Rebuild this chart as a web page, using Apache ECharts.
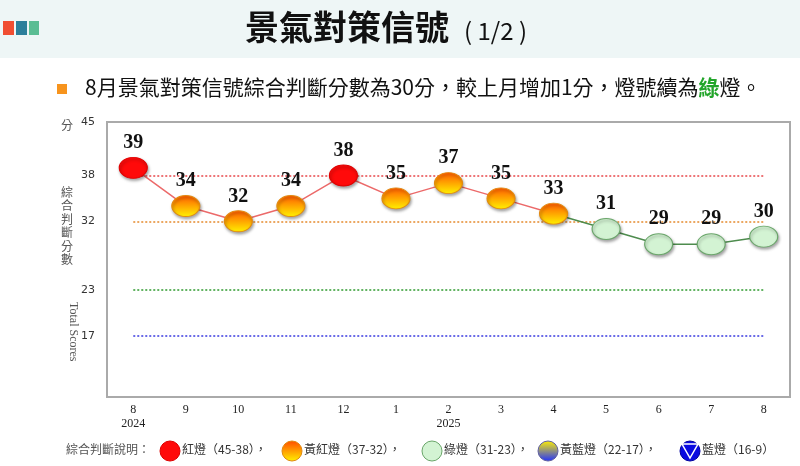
<!DOCTYPE html>
<html>
<head>
<meta charset="utf-8">
<script src="https://cdn.jsdelivr.net/npm/echarts@6/dist/echarts.min.js"></script>
<style>
html,body{margin:0;padding:0;background:#fff;}
#chart{width:800px;height:466px;}
</style>
</head>
<body>
<div id="chart"></div>
<script>
// 月份 / 年份
var months = ['8', '9', '10', '11', '12', '1', '2', '3', '4', '5', '6', '7', '8'];
var years = ['2024', '', '', '', '', '', '2025', '', '', '', '', '', ''];
// 綜合判斷分數
var scores = [39, 34, 32, 34, 38, 35, 37, 35, 33, 31, 29, 29, 30];
// 左軸只標這幾個分數
var yTicks = [45, 38, 32, 23, 17];
// 燈號分界線
var bandValues = [38, 32, 23, 17];
var bandColors = ['#e8474a', '#e58a2e', '#2f9a2f', '#3a3ae0'];

var serif = '"Liberation Serif", "DejaVu Serif", serif';
var cjk = '"Noto Sans CJK TC", "Noto Sans", sans-serif';

var redFill = '#ff0a0a';
var orangeFill = {
    type: 'linear', x: 0, y: 0, x2: 0, y2: 1,
    colorStops: [{offset: 0, color: '#ff5a00'}, {offset: 1, color: '#fff200'}]
};
var greenFill = '#d3f3d3';

function pointStyle(v) {
    if (v >= 38) return {color: redFill, borderColor: '#e00000', borderWidth: 1};
    if (v >= 32) return {color: orangeFill, borderColor: '#e28a10', borderWidth: 1};
    return {color: greenFill, borderColor: '#6aa66a', borderWidth: 1};
}

var points = [];
var redLine = [];
var greenLine = [];
for (var i = 0; i < scores.length; i++) {
    var st = pointStyle(scores[i]);
    st.shadowBlur = 3;
    st.shadowOffsetX = 1;
    st.shadowOffsetY = 2;
    st.shadowColor = 'rgba(0,0,0,0.35)';
    points.push({value: scores[i], itemStyle: st});
    redLine.push(i <= 8 ? scores[i] : '-');
    greenLine.push(i >= 8 ? scores[i] : '-');
}

var bandLines = [];
for (var j = 0; j < bandValues.length; j++) {
    bandLines.push([
        {coord: [0, bandValues[j]], lineStyle: {color: bandColors[j], type: [2, 2], width: 1.5}},
        {coord: [months.length - 1, bandValues[j]]}
    ]);
}

// 左側軸標題（直排）
var vtitle = '綜合判斷分數';
var graphics = [
    {type: 'rect', left: 0, top: 0, shape: {width: 800, height: 58}, style: {fill: '#eef6f6'}, z: -1},
    {type: 'rect', left: 3, top: 21, shape: {width: 11, height: 14}, style: {fill: '#f04e32'}},
    {type: 'rect', left: 16, top: 21, shape: {width: 11, height: 14}, style: {fill: '#2c7f9b'}},
    {type: 'rect', left: 29, top: 21, shape: {width: 10, height: 14}, style: {fill: '#5abd93'}},
    {type: 'text', left: 245, top: 10, style: {text: '景氣對策信號', font: 'bold 34px ' + cjk, fill: '#111'}},
    {type: 'text', left: 464, top: 19, style: {text: '( 1/2 )', font: '24px ' + cjk, fill: '#111'}},
    {type: 'rect', left: 57, top: 84, shape: {width: 10, height: 10}, style: {fill: '#f7941d'}},
    {type: 'text', left: 85, top: 77, style: {
        text: '{a|8月景氣對策信號綜合判斷分數為30分，較上月增加1分，燈號續為}{g|綠}{a|燈。}',
        rich: {
            a: {font: '21px ' + cjk, fill: '#111'},
            g: {font: 'bold 21px ' + cjk, fill: '#22a52a'}
        }
    }},
    {type: 'text', left: 61, top: 119, style: {text: '分', font: '12px ' + cjk, fill: '#555'}},
    {type: 'text', left: 67, top: 302, rotation: -Math.PI / 2, style: {
        text: 'Total Scores', font: '12px ' + serif, fill: '#555', align: 'center', verticalAlign: 'middle'
    }}
];
for (var k = 0; k < vtitle.length; k++) {
    graphics.push({type: 'text', left: 61, top: 186 + k * 13.5,
        style: {text: vtitle[k], font: '12px ' + cjk, fill: '#555'}});
}

// 圖例說明
var legendY = 451;
graphics.push({type: 'text', left: 66, top: legendY - 8, style: {text: '綜合判斷說明：', font: '12px ' + cjk, fill: '#555'}});
var legendItems = [
    {x: 170, fill: redFill, stroke: '#d00', text: '紅燈（45-38），'},
    {x: 292, fill: {type: 'linear', x: 0, y: 0, x2: 0, y2: 1,
        colorStops: [{offset: 0, color: '#ff4a00'}, {offset: 1, color: '#fff200'}]}, stroke: '#e08a10', text: '黃紅燈（37-32），'},
    {x: 432, fill: greenFill, stroke: '#6aa66a', text: '綠燈（31-23），'},
    {x: 548, fill: {type: 'linear', x: 0, y: 0, x2: 0, y2: 1,
        colorStops: [{offset: 0, color: '#fff000'}, {offset: 1, color: '#2030ff'}]}, stroke: '#6060a0', text: '黃藍燈（22-17），'},
    {x: 690, fill: '#0a0ae0', stroke: '#0000a0', text: '藍燈（16-9）'}
];
for (var m = 0; m < legendItems.length; m++) {
    var it = legendItems[m];
    graphics.push({type: 'circle', shape: {cx: it.x, cy: legendY, r: 10},
        style: {fill: it.fill, stroke: it.stroke, lineWidth: 1}});
    graphics.push({type: 'text', left: it.x + 12, top: legendY - 8,
        style: {text: it.text, font: '12px ' + cjk, fill: '#333'}});
}
graphics.push({type: 'polygon', shape: {points: [[682, 444], [698, 444], [690, 458]]},
    style: {fill: 'none', stroke: '#fff', lineWidth: 1.5}});

var option = {
    animation: false,
    backgroundColor: '#fff',
    grid: {
        left: 107, right: 10, top: 122, bottom: 69,
        show: true, borderColor: '#aaa', borderWidth: 2, backgroundColor: '#fff'
    },
    xAxis: {
        type: 'category',
        data: months,
        boundaryGap: true,
        axisLine: {show: false},
        axisTick: {show: false},
        axisLabel: {
            margin: 6,
            interval: 0,
            color: '#222',
            fontFamily: serif,
            fontSize: 12,
            lineHeight: 14,
            formatter: function (v, idx) {
                return years[idx] ? v + '\n' + years[idx] : v;
            }
        }
    },
    yAxis: {
        type: 'value',
        min: 9,
        max: 45,
        interval: 1,
        axisLine: {show: false},
        axisTick: {show: false},
        splitLine: {show: false},
        axisLabel: {
            margin: 12,
            color: '#333',
            fontSize: 11,
            fontFamily: '"DejaVu Sans", sans-serif',
            formatter: function (v) {
                return yTicks.indexOf(v) >= 0 ? String(v) : '';
            }
        }
    },
    series: [
        {
            type: 'line', data: redLine, symbol: 'none', z: 2,
            lineStyle: {color: '#ec6a6a', width: 1.5}
        },
        {
            type: 'line', data: greenLine, symbol: 'none', z: 2,
            lineStyle: {color: '#4e8c4e', width: 1.5}
        },
        {
            type: 'line', data: points, z: 3,
            symbol: 'circle', symbolSize: [28, 21],
            lineStyle: {width: 0, opacity: 0},
            label: {
                show: true, position: 'top', distance: 4,
                color: '#111', fontFamily: serif, fontWeight: 'bold', fontSize: 20
            },
            markLine: {
                silent: true, symbol: 'none', z: 1,
                label: {show: false},
                data: bandLines
            }
        }
    ],
    graphic: graphics
};

var chart = echarts.init(document.getElementById('chart'));
chart.setOption(option);
</script>
</body>
</html>
